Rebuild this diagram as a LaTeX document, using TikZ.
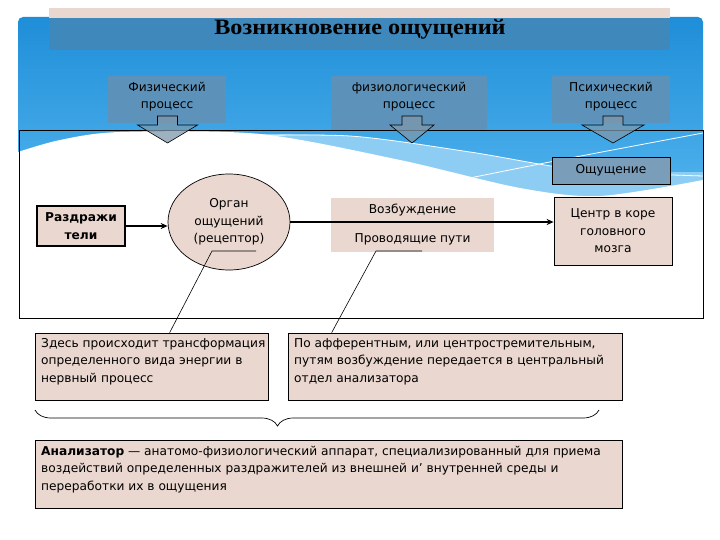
\documentclass[tikz,border=0pt]{standalone}
\usepackage{fontspec}
\setmainfont{DejaVu Sans}
\newfontfamily\titlefont[FakeStretch=1.1]{Liberation Serif}
\usetikzlibrary{shapes.geometric,decorations.pathreplacing,arrows.meta,calc}
\definecolor{beige}{HTML}{EAD7CF}
\definecolor{procc}{HTML}{6490B4}
\definecolor{bandc}{HTML}{3E88BC}
\definecolor{bluetop}{HTML}{1F8ED8}
\definecolor{bluebot}{HTML}{52B4EE}
\definecolor{lightb}{HTML}{8ECDF3}
\definecolor{oshc}{HTML}{7A9DBA}
\definecolor{arrc}{HTML}{7E98AC}
\begin{document}
\begin{tikzpicture}[x=1pt,y=-1pt,
  txt/.style={font=\fontsize{12.2}{17.5}\selectfont, text=black, inner sep=0pt, align=center},
  ltxt/.style={font=\fontsize{12.2}{17.5}\selectfont, text=black, inner sep=0pt, align=left, anchor=north west},
  procbox/.style={fill=procc, fill opacity=0.85, draw=none, inner sep=0pt},
  beigebox/.style={fill=beige, draw=black, line width=0.7pt, inner sep=0pt},
  conn/.style={line width=1.5pt, -{Stealth[length=7pt,width=6pt]}},
  callout/.style={line width=0.6pt, draw=black},
  barrow/.style={fill=arrc, fill opacity=0.75, draw=black, line width=0.6pt}]
\useasboundingbox (0,0) rectangle (720,540);
\fill[white] (0,0) rectangle (720,540);
% blue background
\shade[top color=bluetop, bottom color=bluebot, rounded corners=5pt] (18,17) rectangle (703,205);
\fill[lightb] plot[smooth] coordinates {(220,134) (350,136) (470,152) (580,170) (703,172)} -- (703,205) -- (220,205) -- cycle;
\fill[white] plot[smooth] coordinates {(703,180) (600,196) (520,188) (400,160) (260,134) (120,132) (60,140) (18,152)} -- (18,207) -- (703,207) -- cycle;
\draw[white, line width=0.8pt] plot[smooth] coordinates {(230,136) (350,136) (470,152) (580,170) (703,176)};
\draw[white, line width=0.8pt] plot[smooth] coordinates {(440,184) (560,160) (703,133)};
% title band
\fill[beige] (49,8) rectangle (670,18);
\fill[bandc] (49,18) rectangle (670,50);
\node[font=\titlefont\bfseries\fontsize{22}{26}\selectfont, inner sep=0pt] (title) at (360,29) {Возникновение ощущений};
% process boxes
\node[procbox, minimum width=118pt, minimum height=47pt] (p1) at (167,99.5) {};
\node[procbox, minimum width=156pt, minimum height=54pt] (p2) at (409,103) {};
\node[procbox, minimum width=118pt, minimum height=47pt] (p3) at (611,99.5) {};
\node[txt] (p1t) at (167,96.5) {Физический\\процесс};
\node[txt] (p2t) at (409,96.5) {физиологический\\процесс};
\node[txt] (p3t) at (611,96.5) {Психический\\процесс};
% frame
\draw[black, line width=0.8pt] (19,130) rectangle (703,318);
% block arrows
\foreach \ax/\hw in {167.5/30, 412/22, 613/31}{
  \filldraw[barrow] (\ax-10,116) -- (\ax+10,116) -- (\ax+10,125) -- (\ax+\hw,125) -- (\ax,143) -- (\ax-\hw,125) -- (\ax-10,125) -- cycle;
}
% nodes
\node[fill=oshc, draw=black, line width=0.7pt, minimum width=118pt, minimum height=27pt, inner sep=0pt, font=\fontsize{12.2}{14}\selectfont] (osh) at (611,170.5) {Ощущение};
\node[beigebox, line width=1.8pt, minimum width=88pt, minimum height=40pt, txt, font=\bfseries\fontsize{12.2}{17.5}\selectfont] (razd) at (81,226) {Раздражи\\тели};
\node[ellipse, beigebox, minimum width=122pt, minimum height=96pt, txt] (organ) at (229,222) {Орган\\ощущений\\(рецептор)};
\node[fill=beige, minimum width=163pt, minimum height=54pt, inner sep=0pt] (vozb) at (412.5,225) {};
\node[txt] (vozbt) at (412.5,210) {Возбуждение};
\node[txt] (provt) at (412.5,239) {Проводящие пути};
\node[beigebox, minimum width=118pt, minimum height=68pt, txt] (centr) at (613,231) {Центр в коре\\головного\\мозга};
% connectors
\draw[conn] (razd.east) -- (razd.east -| organ.west);
\draw[conn] (organ.east) -- (organ.east -| centr.west);
% bottom boxes
\node[beigebox, minimum width=233pt, minimum height=67pt] (zdes) at (151.5,366.5) {};
\node[ltxt] (zdest) at (41,338) {Здесь происходит трансформация\\определенного вида энергии в\\нервный процесс};
\node[beigebox, minimum width=334pt, minimum height=67pt] (poaf) at (455,366.5) {};
\node[ltxt] (poaft) at (294,338) {По афферентным, или центростремительным,\\путям возбуждение передается в центральный\\отдел анализатора};
\node[beigebox, minimum width=587pt, minimum height=68pt] (analiz) at (328.5,474) {};
\node[ltxt] (analizt) at (41,446) {\textbf{Анализатор} — анатомо-физиологический аппарат, специализированный для приема\\воздействий определенных раздражителей из внешней и\char"27\ внутренней среды и\\переработки их в ощущения};
% callouts
\coordinate (c1a) at (212,251);
\coordinate (c1b) at (256,251);
\coordinate (c2a) at (376,251);
\coordinate (c2b) at (422,251);
\draw[callout] (c1b) -- (c1a) -- ($(zdes.north west)+(135,0)$);
\draw[callout] (c2b) -- (c2a) -- ($(poaf.north west)+(44,0)$);
% brace
\coordinate (brl) at (35,410);
\coordinate (brr) at (599,410);
\draw[line width=0.7pt, decorate, decoration={brace, mirror, amplitude=16pt, aspect=0.43}] (brl) -- (brr);
\end{tikzpicture}
\end{document}
